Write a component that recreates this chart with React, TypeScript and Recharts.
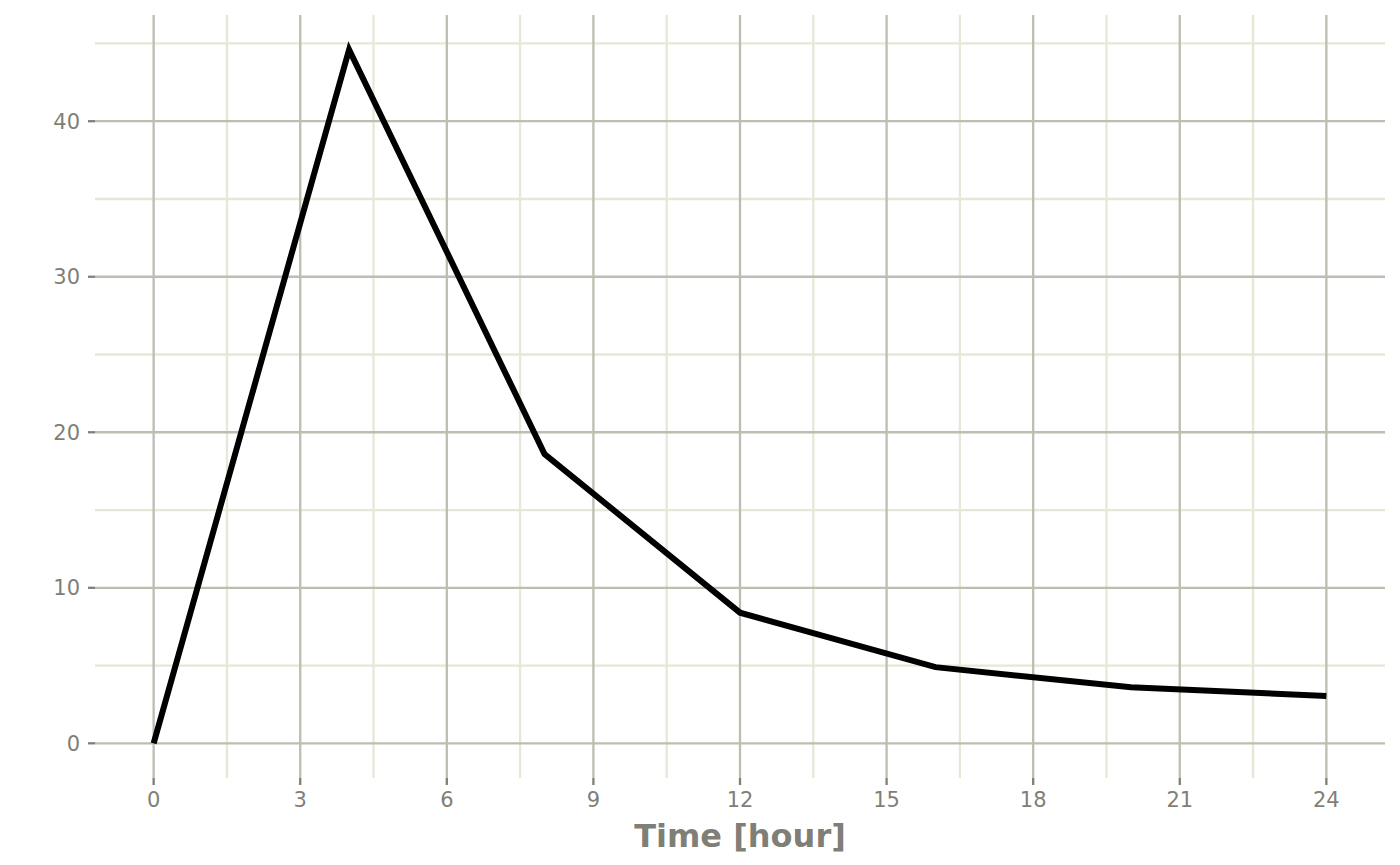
import React from "react";
import { LineChart, Line, XAxis, YAxis, CartesianGrid } from "recharts";

const times = [0, 4, 8, 12, 16, 20, 24];
const concentrations = [0, 44.6, 18.6, 8.4, 4.9, 3.6, 3.05];
const xTicks = [0, 3, 6, 9, 12, 15, 18, 21, 24];
const xMinor = [1.5, 4.5, 7.5, 10.5, 13.5, 16.5, 19.5, 22.5];
const yTicks = [0, 10, 20, 30, 40];
const yMinor = [5, 15, 25, 35, 45];
const xTitle = "Time [hour]";

const data = times.map((t, i) => ({ time: t, conc: concentrations[i] }));

const FONT = "DejaVu Sans";
const TEXT = "#7f7f77";
const MAJOR = "#bdbdb1";
const MINOR = "#e7e7d8";

export default function App() {
  return (
    <div style={{ position: "absolute", left: 0, top: 0, background: "#fff" }}>
      <LineChart
        width={1400}
        height={865}
        data={data}
        margin={{ top: 15, right: 15, bottom: 0, left: 0 }}
      >
        <CartesianGrid
          stroke={MINOR}
          strokeWidth={2.3}
          horizontalValues={yMinor}
          verticalValues={xMinor}
          fill="none"
        />
        <CartesianGrid
          stroke={MAJOR}
          strokeWidth={2.3}
          horizontalValues={yTicks}
          verticalValues={xTicks}
          fill="none"
        />
        <XAxis
          dataKey="time"
          type="number"
          domain={[-1.2, 25.2]}
          ticks={xTicks}
          allowDataOverflow
          height={87}
          axisLine={false}
          tickSize={7}
          tickMargin={7}
          tickLine={{ stroke: TEXT, strokeWidth: 2.3 }}
          tick={{ fill: TEXT, fontSize: 21, fontFamily: FONT }}
          interval={0}
          label={{
            content: (props: any) => {
              const vb = props.viewBox || {};
              return (
                <text
                  x={vb.x + vb.width / 2}
                  y={847}
                  textAnchor="middle"
                  fill={TEXT}
                  fontSize={32}
                  fontWeight="bold"
                  fontFamily={FONT}
                >
                  {xTitle}
                </text>
              );
            },
          }}
        />
        <YAxis
          type="number"
          domain={[-2.23, 46.83]}
          ticks={yTicks}
          allowDataOverflow
          width={95}
          axisLine={false}
          tickSize={7}
          tickMargin={8}
          tickLine={{ stroke: TEXT, strokeWidth: 2.3 }}
          tick={{ fill: TEXT, fontSize: 21, fontFamily: FONT }}
          interval={0}
        />
        <Line
          type="linear"
          dataKey="conc"
          stroke="#000"
          strokeWidth={6}
          dot={false}
          activeDot={false}
          isAnimationActive={false}
        />
      </LineChart>
    </div>
  );
}
